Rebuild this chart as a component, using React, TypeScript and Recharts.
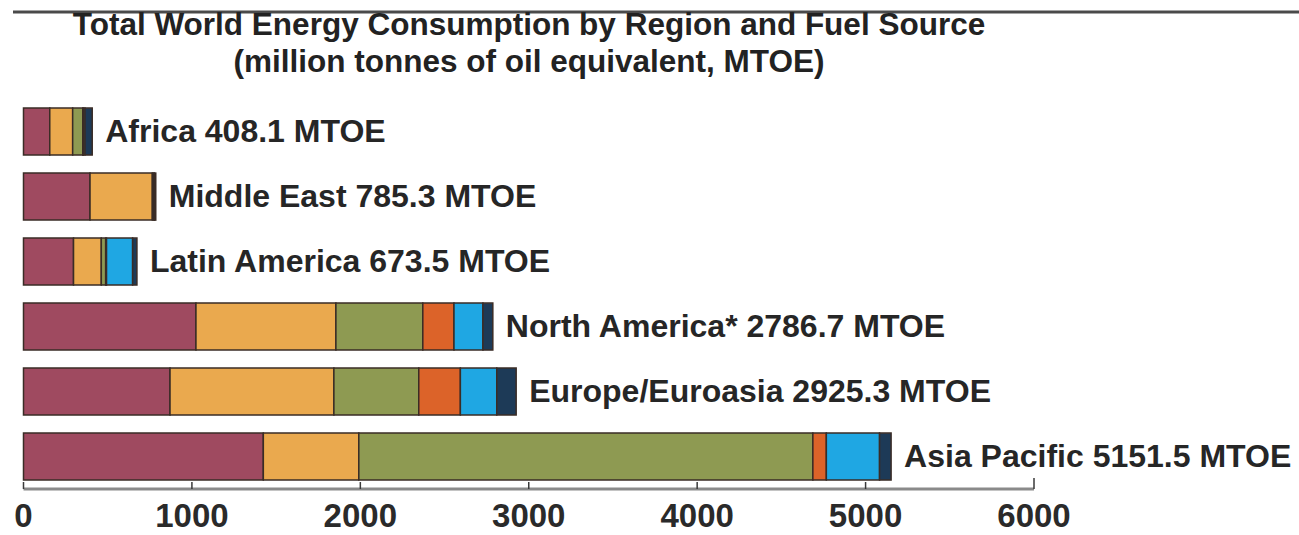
import React from 'react';
import { BarChart, Bar, XAxis, YAxis, LabelList } from 'recharts';

// Regions (top to bottom) and consumption by fuel source, MTOE
const regions = ['Africa', 'Middle East', 'Latin America', 'North America*', 'Europe/Euroasia', 'Asia Pacific'];
const oil = [156, 395, 297, 1024, 870, 1424];
const gas = [136, 370, 165, 831, 973, 567];
const coal = [60, 9, 26, 516, 504, 2696];
const nuclear = [3, 0, 5, 185, 247, 80];
const hydro = [10, 4, 155, 172, 216, 316];
const renewables = [43.1, 7.3, 25.5, 58.7, 115.3, 68.5];

const xTicks = [0, 1000, 2000, 3000, 4000, 5000, 6000];

const titleLine1 = 'Total World Energy Consumption by Region and Fuel Source';
const titleLine2 = '(million tonnes of oil equivalent, MTOE)';

const fuels = [
  { key: 'oil', color: '#9f4a60' },
  { key: 'gas', color: '#eaa94e' },
  { key: 'coal', color: '#8e9a52' },
  { key: 'nuclear', color: '#dc6329' },
  { key: 'hydro', color: '#1fa7e3' },
  { key: 'renewables', color: '#1d3a57' },
];

const data = regions.map((name, i) => {
  const total = oil[i] + gas[i] + coal[i] + nuclear[i] + hydro[i] + renewables[i];
  return {
    name,
    oil: oil[i],
    gas: gas[i],
    coal: coal[i],
    nuclear: nuclear[i],
    hydro: hydro[i],
    renewables: renewables[i],
    label: `${name} ${total.toFixed(1)} MTOE`,
  };
});

const FONT = "'Liberation Sans', Arial, sans-serif";

const RegionLabel = (props: any) => {
  const { x, y, width, height, value } = props;
  return (
    <text
      x={Number(x) + Number(width) + 13}
      y={Number(y) + Number(height) / 2 + 10}
      fontFamily={FONT}
      fontWeight="bold"
      fontSize={32}
      fill="#262626"
    >
      {value}
    </text>
  );
};

const AxisTick = (props: any) => {
  const { x, y, payload } = props;
  const last = payload.value === 6000;
  return (
    <g>
      <line x1={x} x2={x} y1={y - (last ? 11 : 7)} y2={y} stroke="#3a3a3a" strokeWidth={1.5} />
      <text
        x={x}
        y={y + 38}
        textAnchor="middle"
        fontFamily={FONT}
        fontWeight="bold"
        fontSize={33}
        fill="#2a2a2a"
      >
        {payload.value}
      </text>
    </g>
  );
};

export default function App() {
  return (
    <div style={{ position: 'absolute', left: 0, top: 0, width: 1299, height: 535, background: '#fff' }}>
      <svg width={1299} height={535} style={{ position: 'absolute', left: 0, top: 0 }}>
        <line x1={13} x2={1299} y1={12} y2={12} stroke="#4a4a4a" strokeWidth={3} />
        <text x={529} y={35} textAnchor="middle" fontFamily={FONT} fontWeight="bold" fontSize={31.5} fill="#222">
          {titleLine1}
        </text>
        <text x={529} y={72} textAnchor="middle" fontFamily={FONT} fontWeight="bold" fontSize={31.5} fill="#222">
          {titleLine2}
        </text>
      </svg>
      <div style={{ position: 'absolute', left: 0, top: 0 }}>
        <BarChart
          width={1299}
          height={535}
          data={data}
          layout="vertical"
          margin={{ top: 99, right: 265, bottom: 0, left: 23.5 }}
          barCategoryGap="14%"
        >
          <XAxis
            type="number"
            domain={[0, 6000]}
            ticks={xTicks}
            interval={0}
            height={46}
            tickSize={0}
            tickMargin={0}
            tickLine={false}
            axisLine={{ stroke: '#8a8a8a', strokeWidth: 3 }}
            tick={<AxisTick />}
          />
          <YAxis
            type="category"
            dataKey="name"
            width={0}
            tick={false}
            tickLine={false}
            axisLine={{ stroke: '#333', strokeWidth: 2 }}
          />
          {fuels.map((f, idx) => (
            <Bar
              key={f.key}
              dataKey={f.key}
              stackId="energy"
              fill={f.color}
              stroke="#3a2c26"
              strokeWidth={1.5}
              isAnimationActive={false}
            >
              {idx === fuels.length - 1 ? <LabelList dataKey="label" content={<RegionLabel />} /> : null}
            </Bar>
          ))}
        </BarChart>
      </div>
    </div>
  );
}
